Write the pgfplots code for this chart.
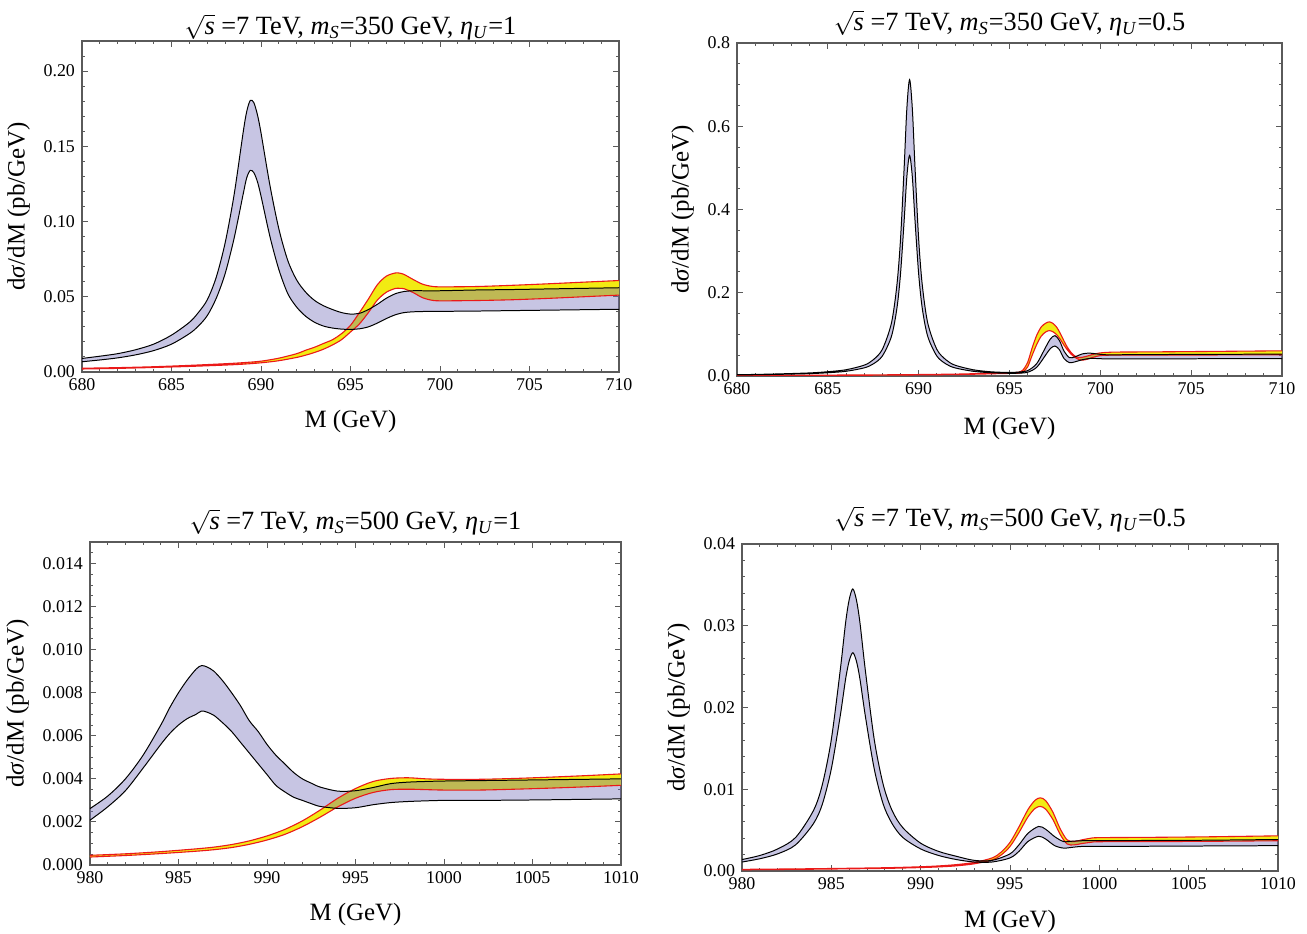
\documentclass[border=0pt]{standalone}
\usepackage{fontspec}
\setmainfont{Liberation Serif}
\usepackage{pgfplots}
\pgfplotsset{compat=1.18}
\usepackage{pgfplotstable}

\definecolor{band}{RGB}{115,110,185}
\definecolor{yband}{RGB}{242,235,18}
\definecolor{redline}{RGB}{235,25,25}
\definecolor{frame}{RGB}{90,90,90}

% each band: upper edge left to right, then lower edge right to left
% (one point past the right edge so the turn is clipped away)

% ---- m_S = 350 GeV, eta_U = 1 ----
\pgfplotstableread{
x y
680 0.0090
681 0.0105
682 0.0122
683 0.0148
684 0.0185
685 0.0245
686 0.0330
686.5 0.0395
687 0.0480
687.5 0.0630
688 0.0860
688.5 0.1180
689 0.1590
689.2 0.1730
689.4 0.1805
689.6 0.1790
689.8 0.1710
690 0.1590
690.5 0.1240
691 0.0950
691.5 0.0740
692 0.0610
692.5 0.0530
693 0.0475
693.5 0.0440
694 0.0415
694.5 0.0395
695 0.0385
695.5 0.0390
696 0.0415
696.5 0.0450
697 0.0490
697.5 0.0520
698 0.0535
698.5 0.0540
699 0.0540
700 0.0540
702 0.0545
704 0.0548
706 0.0552
708 0.0556
710 0.0560
711 0.0562
711 0.0419
710 0.0417
708 0.0414
706 0.0411
704 0.0408
702 0.0405
700 0.0403
699 0.0402
698.5 0.0400
698 0.0395
697.5 0.0380
697 0.0355
696.5 0.0325
696 0.0300
695.5 0.0287
695 0.0283
694.5 0.0285
694 0.0292
693.5 0.0305
693 0.0330
692.5 0.0370
692 0.0430
691.5 0.0520
691 0.0680
690.5 0.0900
690 0.1170
689.8 0.1265
689.6 0.1325
689.4 0.1340
689.2 0.1290
689 0.1180
688.5 0.0890
688 0.0655
687.5 0.0490
687 0.0375
686.5 0.0305
686 0.0255
685 0.0185
684 0.0142
683 0.0114
682 0.0094
681 0.0080
680 0.0068
}\lavA
\pgfplotstableread{
x y
680 0.0025
682 0.0029
684 0.0035
686 0.0044
688 0.0055
689 0.0062
690 0.0072
691 0.0092
692 0.0122
692.5 0.0145
693 0.0165
693.5 0.0190
694 0.0215
694.5 0.0255
695 0.0310
695.5 0.0395
696 0.0485
696.5 0.0580
697 0.0637
697.5 0.0658
697.75 0.0657
698 0.0648
698.5 0.0615
699 0.0585
699.5 0.0570
700 0.0566
702 0.0568
704 0.0576
706 0.0586
708 0.0597
710 0.0608
711 0.0614
711 0.0517
710 0.0511
708 0.0500
706 0.0489
704 0.0480
702 0.0475
700 0.0473
699.5 0.0478
699 0.0495
698.5 0.0528
698 0.0553
697.75 0.0556
697.5 0.0555
697 0.0530
696.5 0.0478
696 0.0395
695.5 0.0320
695 0.0266
694.5 0.0215
694 0.0180
693.5 0.0152
693 0.0130
692.5 0.0112
692 0.0097
691 0.0075
690 0.0061
689 0.0052
688 0.0046
686 0.0037
684 0.0030
682 0.0024
680 0.0020
}\yelA

% ---- m_S = 350 GeV, eta_U = 0.5 ----
\pgfplotstableread{
x y
680 0.0030
682 0.0047
684 0.0074
685 0.0103
686 0.0150
687 0.0260
687.5 0.0390
688 0.0640
688.5 0.1270
688.8 0.2180
689 0.3280
689.2 0.5000
689.35 0.6430
689.5 0.7120
689.65 0.6430
689.8 0.5000
690 0.3280
690.2 0.2180
690.5 0.1270
691 0.0640
691.5 0.0390
692 0.0260
693 0.0150
694 0.0100
695 0.0085
695.5 0.0095
696 0.0130
696.5 0.0300
697 0.0700
697.25 0.0890
697.5 0.0970
697.75 0.0850
698 0.0600
698.3 0.0440
698.6 0.0460
699 0.0530
699.4 0.0550
699.8 0.0530
700.3 0.0510
701 0.0510
703 0.0515
706 0.0520
710 0.0525
711 0.0526
711 0.0421
710 0.0420
706 0.0415
703 0.0412
701 0.0410
700.3 0.0410
699.8 0.0420
699.4 0.0420
699 0.0390
698.6 0.0340
698.3 0.0320
698 0.0420
697.75 0.0630
697.5 0.0720
697.25 0.0660
697 0.0510
696.5 0.0210
696 0.0090
695.5 0.0068
695 0.0065
694 0.0078
693 0.0113
692 0.0195
691.5 0.0290
691 0.0480
690.5 0.0950
690.2 0.1620
690 0.2450
689.8 0.3730
689.65 0.4790
689.5 0.5300
689.35 0.4790
689.2 0.3730
689 0.2450
688.8 0.1620
688.5 0.0950
688 0.0480
687.5 0.0290
687 0.0195
686 0.0113
685 0.0078
684 0.0057
682 0.0037
680 0.0025
}\lavB
\pgfplotstableread{
x y
680 0.0015
684 0.0020
688 0.0028
690 0.0035
692 0.0045
693 0.0055
694 0.0068
694.5 0.0075
695 0.0080
695.5 0.0090
695.75 0.0150
696 0.0330
696.25 0.0680
696.5 0.0980
696.75 0.1180
697 0.1270
697.2 0.1300
697.4 0.1260
697.6 0.1170
697.8 0.1020
698 0.0840
698.2 0.0680
698.4 0.0560
698.6 0.0480
698.8 0.0445
699 0.0450
699.3 0.0480
699.6 0.0520
700 0.0555
700.5 0.0570
701 0.0575
703 0.0580
706 0.0590
710 0.0605
711 0.0609
711 0.0511
710 0.0510
706 0.0505
703 0.0502
701 0.0500
700.5 0.0500
700 0.0490
699.6 0.0450
699.3 0.0405
699 0.0380
698.8 0.0400
698.6 0.0450
698.4 0.0520
698.2 0.0620
698 0.0740
697.8 0.0880
697.6 0.0990
697.4 0.1060
697.2 0.1090
697 0.1060
696.75 0.0960
696.5 0.0760
696.25 0.0500
696 0.0220
695.75 0.0100
695.5 0.0068
695 0.0062
694.5 0.0058
694 0.0052
693 0.0042
692 0.0034
690 0.0026
688 0.0020
684 0.0014
680 0.0010
}\yelB

% ---- m_S = 500 GeV, eta_U = 1 ----
\pgfplotstableread{
x y
980 0.00262
981 0.00320
982 0.00400
983 0.00510
984 0.00650
984.5 0.00730
985 0.00800
985.5 0.00860
986 0.00910
986.3 0.00926
986.6 0.00920
987 0.00900
987.5 0.00855
988 0.00800
988.5 0.00740
989 0.00670
989.5 0.00620
990 0.00560
990.5 0.00510
991 0.00470
991.5 0.00430
992 0.00400
992.5 0.00380
993 0.00362
994 0.00343
995 0.00345
996 0.00360
997 0.00378
998 0.00385
999 0.00388
1000 0.00390
1002 0.00392
1005 0.00395
1008 0.00398
1010 0.00400
1011 0.00401
1011 0.00308
1010 0.00307
1008 0.00305
1005 0.00302
1002 0.00300
1000 0.00300
999 0.00298
998 0.00295
997 0.00290
996 0.00280
995 0.00266
994 0.00263
993 0.00272
992.5 0.00285
992 0.00300
991.5 0.00315
991 0.00340
990.5 0.00370
990 0.00420
989.5 0.00470
989 0.00520
988.5 0.00570
988 0.00620
987.5 0.00660
987 0.00695
986.6 0.00710
986.3 0.00715
986 0.00700
985.5 0.00680
985 0.00650
984.5 0.00610
984 0.00560
983 0.00450
982 0.00345
981 0.00270
980 0.00208
}\lavC
\pgfplotstableread{
x y
980 0.00045
982 0.00052
984 0.00062
986 0.00075
987 0.00083
988 0.00095
989 0.00112
990 0.00135
991 0.00165
992 0.00205
993 0.00255
994 0.00310
995 0.00355
996 0.00388
997 0.00402
998 0.00405
999 0.00400
1000 0.00398
1002 0.00398
1004 0.00402
1006 0.00408
1008 0.00415
1010 0.00423
1011 0.00427
1011 0.00374
1010 0.00370
1008 0.00363
1006 0.00357
1004 0.00352
1002 0.00348
1000 0.00348
999 0.00350
998 0.00352
997 0.00350
996 0.00337
995 0.00310
994 0.00270
993 0.00222
992 0.00178
991 0.00142
990 0.00116
989 0.00096
988 0.00081
987 0.00071
986 0.00064
984 0.00053
982 0.00044
980 0.00037
}\yelC

% ---- m_S = 500 GeV, eta_U = 0.5 ----
\pgfplotstableread{
x y
980 0.00140
981 0.00190
982 0.00270
983 0.00410
984 0.00740
984.5 0.01060
985 0.01610
985.5 0.02460
985.8 0.03040
986 0.03320
986.2 0.03450
986.4 0.03320
986.6 0.03040
986.9 0.02460
987.4 0.01610
987.9 0.01060
988.4 0.00740
989 0.00530
990 0.00340
991 0.00240
992 0.00180
993 0.00130
994 0.00130
995 0.00210
995.5 0.00320
996 0.00460
996.6 0.00545
997 0.00510
997.5 0.00420
998 0.00360
998.5 0.00365
999 0.00370
1000 0.00372
1005 0.00375
1010 0.00385
1011 0.00387
1011 0.00311
1010 0.00310
1005 0.00305
1000 0.00300
999 0.00300
998.5 0.00290
998 0.00280
997.5 0.00310
997 0.00390
996.6 0.00425
996 0.00360
995.5 0.00240
995 0.00160
994 0.00110
993 0.00110
992 0.00140
991 0.00190
990 0.00270
989 0.00410
988.4 0.00580
987.9 0.00820
987.4 0.01250
986.9 0.01900
986.6 0.02350
986.4 0.02570
986.2 0.02670
986 0.02570
985.8 0.02350
985.5 0.01900
985 0.01250
984.5 0.00820
984 0.00580
983 0.00320
982 0.00210
981 0.00150
980 0.00110
}\lavD
\pgfplotstableread{
x y
980 0.00020
984 0.00028
988 0.00040
990 0.00052
991 0.00062
992 0.00078
993 0.00105
994 0.00160
994.5 0.00230
995 0.00350
995.5 0.00540
996 0.00750
996.4 0.00865
996.7 0.00895
997 0.00860
997.4 0.00720
997.8 0.00520
998.2 0.00380
998.6 0.00360
999 0.00380
999.5 0.00400
1000 0.00408
1003 0.00412
1006 0.00418
1010 0.00430
1011 0.00433
1011 0.00372
1010 0.00370
1006 0.00363
1003 0.00360
1000 0.00358
999.5 0.00350
999 0.00335
998.6 0.00320
998.2 0.00330
997.8 0.00450
997.4 0.00630
997 0.00755
996.7 0.00790
996.4 0.00765
996 0.00660
995.5 0.00470
995 0.00300
994.5 0.00195
994 0.00135
993 0.00088
992 0.00063
991 0.00050
990 0.00042
988 0.00032
984 0.00022
980 0.00015
}\yelD

\pgfplotsset{
  panel/.style={
    scale only axis, anchor=south west,
    axis line style={frame, line width=0.6pt},
    tick style={frame, line width=0.5pt},
    major tick length=3pt, minor tick length=1.7pt,
    tick align=inside,
    scaled y ticks=false,
    ticklabel style={font=\fontsize{9}{10}\selectfont},
    /pgf/number format/assume math mode=true,
    xticklabel style={/pgf/number format/1000 sep={}},
    label style={font=\fontsize{12.5}{14}\selectfont},
    title style={font=\fontsize{13.2}{15}\selectfont},
    xlabel={M (GeV)},
    ylabel={d\textit{σ}/dM (pb/GeV)},
  },
}

% yellow band, lavender band over it, then the edges
\newcommand\bands[2]{%
  \addplot[fill=yband, draw=none, smooth, tension=0.5] table{#2};
  \addplot[fill=band, fill opacity=0.4, draw=none, smooth, tension=0.5] table{#1};
  \addplot[redline, line width=0.55pt, smooth, tension=0.5] table{#2};
  \addplot[black, line width=0.5pt, smooth, tension=0.5] table{#1};
}

\begin{document}
\begin{tikzpicture}
\useasboundingbox (0,0) rectangle (653.5bp,467bp);

\begin{axis}[panel, at={(41bp,281bp)}, width=268.5bp, height=165.5bp,
  xmin=680, xmax=710, ymin=0, ymax=0.22,
  xtick={680,685,...,710}, minor xtick={680,...,710},
  ytick={0,0.05,0.1,0.15,0.2}, minor ytick={0,0.01,...,0.22},
  yticklabel style={/pgf/number format/.cd, fixed, fixed zerofill, precision=2},
  title style={yshift=-9bp}, xlabel style={yshift=-2.5bp},
  title={$\sqrt{\textit{s}}$ =7 TeV, \textit{m}\textsubscript{\textit{S}}=350 GeV, \textit{η}\textsubscript{\textit{U}}=1}]
\bands{\lavA}{\yelA}
\end{axis}

\begin{axis}[panel, at={(368.5bp,279bp)}, width=272.5bp, height=166.5bp,
  xmin=680, xmax=710, ymin=0, ymax=0.8,
  xtick={680,685,...,710}, minor xtick={680,...,710},
  ytick={0,0.2,0.4,0.6,0.8}, minor ytick={0,0.05,...,0.8},
  yticklabel style={/pgf/number format/.cd, fixed, fixed zerofill, precision=1},
  title style={yshift=-6bp}, xlabel style={yshift=-4bp},
  title={$\sqrt{\textit{s}}$ =7 TeV, \textit{m}\textsubscript{\textit{S}}=350 GeV, \textit{η}\textsubscript{\textit{U}}=0.5}]
\bands{\lavB}{\yelB}
\end{axis}

\begin{axis}[panel, at={(45bp,34.5bp)}, width=265.5bp, height=161.5bp,
  xmin=980, xmax=1010, ymin=0, ymax=0.015,
  xtick={980,985,...,1010}, minor xtick={980,...,1010},
  ytick={0,0.002,0.004,0.006,0.008,0.010,0.012,0.014}, minor ytick={0,0.0005,...,0.015},
  yticklabel style={/pgf/number format/.cd, fixed, fixed zerofill, precision=3},
  title style={yshift=-6bp}, xlabel style={yshift=-2.5bp},
  title={$\sqrt{\textit{s}}$ =7 TeV, \textit{m}\textsubscript{\textit{S}}=500 GeV, \textit{η}\textsubscript{\textit{U}}=1}]
\bands{\lavC}{\yelC}
\end{axis}

\begin{axis}[panel, at={(371bp,31.5bp)}, width=268bp, height=163.5bp,
  xmin=980, xmax=1010, ymin=0, ymax=0.04,
  xtick={980,985,...,1010}, minor xtick={980,...,1010},
  ytick={0,0.01,0.02,0.03,0.04}, minor ytick={0,0.002,...,0.04},
  yticklabel style={/pgf/number format/.cd, fixed, fixed zerofill, precision=2},
  title style={yshift=-3.5bp}, xlabel style={yshift=-3bp},
  title={$\sqrt{\textit{s}}$ =7 TeV, \textit{m}\textsubscript{\textit{S}}=500 GeV, \textit{η}\textsubscript{\textit{U}}=0.5}]
\bands{\lavD}{\yelD}
\end{axis}
\end{tikzpicture}
\end{document}
